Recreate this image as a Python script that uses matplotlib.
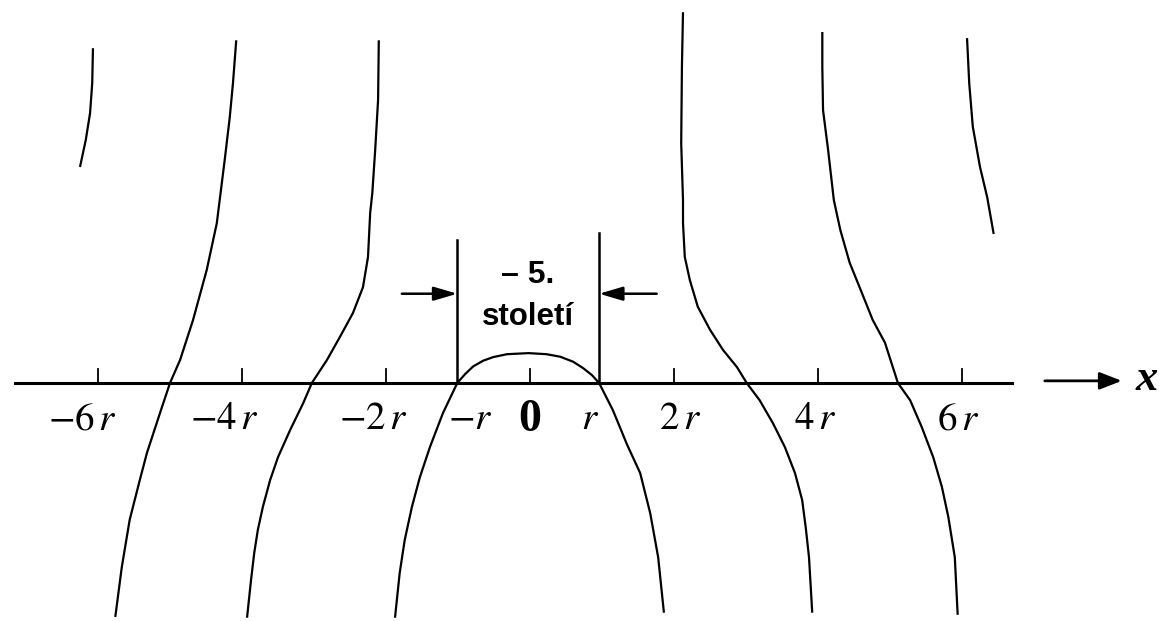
import numpy as np
import matplotlib.pyplot as plt

plt.rcParams['mathtext.fontset'] = 'stix'

# curve branches, x and y both in units of r
c1_x = [-6.07, -6.08, -6.11, -6.17, -6.25]
c1_y = [4.65, 4.17, 3.75, 3.375, 3.0]

cA_x = [-4.08, -4.125, -4.17, -4.24, -4.31, -4.35, -4.49, -4.68, -4.86, -5.0,
        -5.14, -5.32, -5.42, -5.56, -5.67, -5.76]
cA_y = [4.76, 4.17, 3.69, 3.10, 2.54, 2.22, 1.57, 0.875, 0.32, 0.0,
        -0.42, -0.97, -1.35, -1.90, -2.56, -3.25]

cB_x = [-2.10, -2.11, -2.15, -2.19, -2.22, -2.25, -2.32, -2.46, -2.64, -2.82,
        -3.03, -3.15, -3.33, -3.50, -3.61, -3.71, -3.78, -3.83, -3.875, -3.93]
cB_y = [4.76, 3.93, 3.24, 2.64, 2.36, 1.75, 1.33, 0.97, 0.64, 0.32,
        0.0, -0.28, -0.65, -1.03, -1.35, -1.72, -2.04, -2.36, -2.74, -3.26]

cC_x = [-1.875, -1.81, -1.74, -1.64, -1.53, -1.39, -1.21,
        -1.01, -0.90, -0.79, -0.65, -0.51, -0.32, -0.02, 0.23, 0.42, 0.60, 0.74, 0.86, 0.96,
        1.15, 1.35, 1.53, 1.67, 1.78, 1.86]
cC_y = [-3.26, -2.64, -2.18, -1.72, -1.31, -0.89, -0.42,
        0.0, 0.125, 0.23, 0.31, 0.36, 0.40, 0.415, 0.40, 0.365, 0.295, 0.205, 0.11, 0.0,
        -0.375, -0.86, -1.25, -1.81, -2.42, -3.19]

cD_x = [2.125, 2.11, 2.10, 2.125, 2.125, 2.15, 2.22, 2.33, 2.50, 2.68, 2.875, 3.01,
        3.19, 3.375, 3.54, 3.68, 3.78, 3.83, 3.875, 3.92]
cD_y = [5.15, 4.39, 3.33, 2.54, 2.22, 1.75, 1.43, 1.06, 0.74, 0.46, 0.22, 0.0,
        -0.24, -0.56, -0.89, -1.25, -1.625, -2.01, -2.42, -3.19]

cE_x = [4.06, 4.06, 4.07, 4.14, 4.22, 4.31, 4.44, 4.61, 4.76, 4.93, 5.11,
        5.28, 5.44, 5.60, 5.72, 5.81, 5.90, 5.94]
cE_y = [4.875, 4.39, 3.79, 3.24, 2.54, 2.125, 1.67, 1.25, 0.875, 0.56, 0.0,
        -0.24, -0.61, -1.03, -1.44, -1.86, -2.42, -3.22]

cF_x = [6.07, 6.10, 6.15, 6.25, 6.35, 6.44]
cF_y = [4.79, 4.17, 3.56, 3.0, 2.58, 2.07]

tick_pos = [-6, -4, -2, 0, 2, 4, 6]
tick_labels = [r'$-6\,r$', r'$-4\,r$', r'$-2\,r$', r'$-r$', '0', r'$r$',
               r'$2\,r$', r'$4\,r$', r'$6\,r$']
label_pos = [-6.21, -4.25, -2.18, -0.83, 0.0, 0.83, 2.08, 3.96, 5.94]

# the marked zone between -r and r
zone = [-1.01, 0.96]
zone_top = [1.99, 2.08]

fig = plt.figure(figsize=(11.73, 6.21), dpi=100)
ax = fig.add_axes([0, 0, 1, 1])
ax.set_xlim(-530/72, 643/72)
ax.set_ylim(-238/72, 383/72)
ax.axis('off')

for xs, ys in [(c1_x, c1_y), (cA_x, cA_y), (cB_x, cB_y), (cC_x, cC_y),
               (cD_x, cD_y), (cE_x, cE_y), (cF_x, cF_y)]:
    ax.plot(xs, ys, color='black', lw=1.6, solid_capstyle='butt',
            solid_joinstyle='round')

# x axis
ax.plot([-7.15, 6.69], [0, 0], color='black', lw=2.2)
ax.annotate('', xy=(8.22, 0.03), xytext=(7.15, 0.03),
            arrowprops=dict(arrowstyle='-|>,head_length=0.9,head_width=0.35',
                            mutation_scale=15, lw=2, color='black',
                            shrinkA=0, shrinkB=0))
ax.text(8.57, 0.06, 'x', fontsize=32, family='Liberation Serif', style='italic',
        weight='bold', ha='center', va='center')

for t in tick_pos:
    ax.plot([t, t], [0, 0.2], color='black', lw=1.3)

for lab, xp in zip(tick_labels, label_pos):
    if lab == '0':
        ax.text(xp, -0.52, lab, fontsize=33, family='Liberation Serif', weight='bold',
                ha='center', va='center')
    else:
        ax.text(xp, -0.49, lab, fontsize=28, ha='center', va='center')

for zx, zt in zip(zone, zone_top):
    ax.plot([zx, zx], [0, zt], color='black', lw=1.8)

ax.annotate('', xy=(zone[0], 1.24), xytext=(-1.78, 1.24),
            arrowprops=dict(arrowstyle='-|>,head_length=0.95,head_width=0.28',
                            mutation_scale=15, lw=1.8, color='black',
                            shrinkA=0, shrinkB=0))
ax.annotate('', xy=(zone[1], 1.24), xytext=(1.76, 1.24),
            arrowprops=dict(arrowstyle='-|>,head_length=0.95,head_width=0.28',
                            mutation_scale=15, lw=1.8, color='black',
                            shrinkA=0, shrinkB=0))

ax.text(-0.03, 1.5, '– 5.', fontsize=23, family='Liberation Sans', weight='bold',
        ha='center', va='center')
ax.text(-0.03, 0.92, 'století', fontsize=22.5, family='Liberation Sans', weight='bold',
        ha='center', va='center')

plt.savefig('out.png', dpi=100)
